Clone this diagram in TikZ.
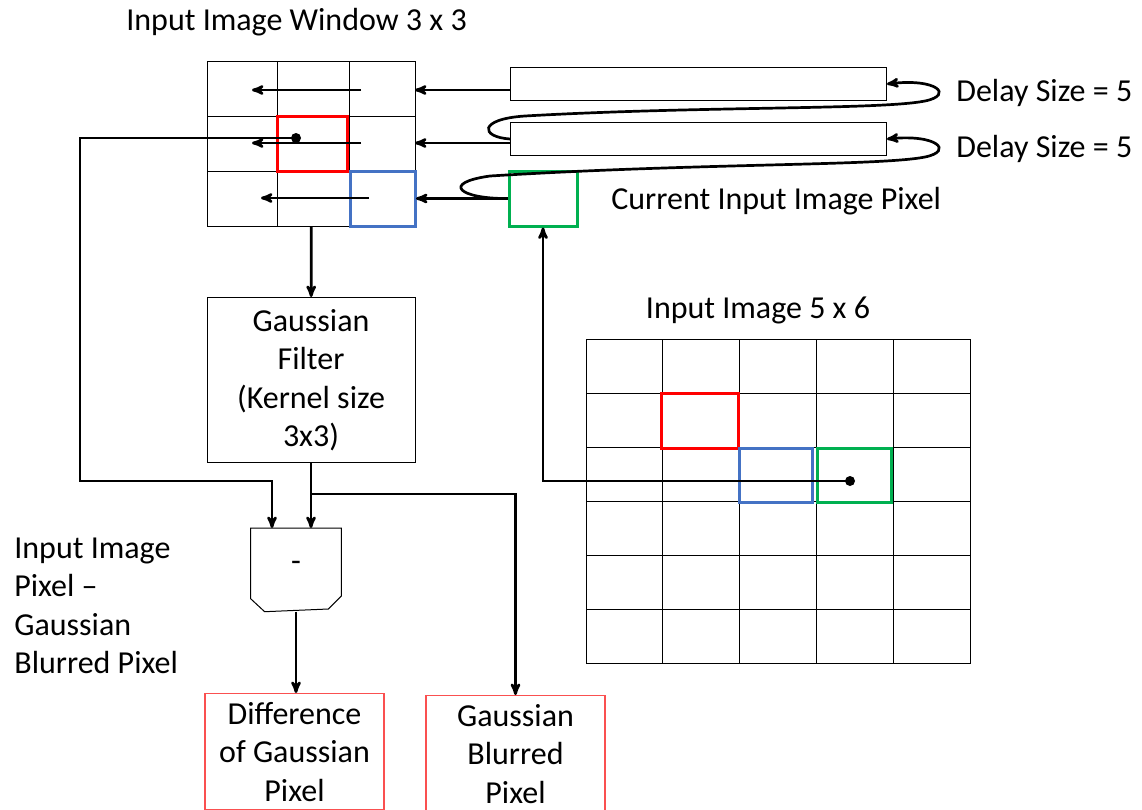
\documentclass[tikz,border=0pt]{standalone}
\usepackage{fontspec}
\setmainfont{Carlito}
\usetikzlibrary{arrows}
\usetikzlibrary{positioning}
\usetikzlibrary{calc}

\definecolor{selred}{RGB}{255,0,0}
\definecolor{selblue}{RGB}{68,114,196}
\definecolor{selgreen}{RGB}{0,176,80}
\definecolor{outred}{RGB}{250,80,80}

\begin{document}
\begin{tikzpicture}[x=1pt,y=-1pt,->,>=stealth',line width=2.7pt,
    font=\fontsize{32}{38.5}\selectfont,
    box/.style={draw,line width=1pt,inner sep=0pt},
    gridline/.style={-,line width=1pt},
    sel/.style={draw=#1,line width=3pt,inner sep=0pt,minimum height=55pt},
    outbox/.style={draw=outred,line width=1.2pt,align=center,minimum width=179pt},
    dot/.style={circle,fill,inner sep=0pt,minimum size=10pt},
    lbl/.style={inner sep=0pt,anchor=base west}]

        \useasboundingbox (0,0) rectangle (1142,809);

        % window 3x3
        \node[box,minimum width=208pt,minimum height=165pt,anchor=north west] (win) at (207,61) {};
        \foreach \x in {277,349} \draw[gridline] (\x,61) -- (\x,226);
        \foreach \y in {116,171} \draw[gridline] (207,\y) -- (415,\y);
        \node[lbl] (wintitle) at (125,30) {Input Image Window 3 x 3};
        \node[sel=selred,minimum width=70pt] (wred) at (312,143.5) {};
        \node[sel=selblue,minimum width=65pt] (wblue) at (382.5,198.5) {};
        \node[dot] (wpix) at (296,138) {};
        \coordinate (r1) at (415,90);
        \coordinate (r2) at (415,143);

        % delay lines
        \node[box,minimum width=376pt,minimum height=33pt,anchor=north west] (dl1) at (510,67) {};
        \node[box,minimum width=376pt,minimum height=33pt,anchor=north west] (dl2) at (510,122) {};
        \node[sel=selgreen,minimum width=68pt] (cur) at (543,198.5) {};
        \node[lbl] (dl1lbl) at (955,101) {Delay Size = 5};
        \node[lbl] (dl2lbl) at (955,157) {Delay Size = 5};
        \node[lbl] (curlbl) at (610,209) {Current Input Image Pixel};

        % filter and subtractor
        \node[box,minimum width=208pt,minimum height=165pt,align=center,anchor=north] (gf) at (311,297) {Gaussian\\Filter\\(Kernel size\\3x3)};
        \node[minimum width=88pt,minimum height=75pt,inner sep=0pt,anchor=north] (sub) at (296,528) {-};
        \draw[gridline] (sub.north west) -- (sub.north east) -- ++(0,68) -- ++(-13,13)
            -- ($(sub.south west)+(14,6)$) -- ++(-14,-13) -- cycle;
        \node[align=left,inner sep=0pt,anchor=west] (sublbl) at (13,606) {Input Image\\Pixel --\\Gaussian\\Blurred Pixel};

        % outputs
        \node[outbox,minimum height=116pt,anchor=north] (dog) at (294.5,693) {Difference\\of Gaussian\\Pixel};
        \node[outbox,minimum height=116pt,anchor=north] (gbp) at (515.5,695) {Gaussian\\Blurred\\Pixel};

        % input image 5x6
        \node[box,minimum width=384pt,minimum height=324pt,anchor=north west] (img) at (586,339) {};
        \foreach \i in {1,...,4} \draw[gridline] (586+\i*76.8,339) -- ++(0,324);
        \foreach \j in {1,...,5} \draw[gridline] (586,339+\j*54) -- ++(384,0);
        \node[anchor=base] (imgtitle) at (758,318) {Input Image 5 x 6};
        \node[sel=selred,minimum width=77pt] (ired) at (699.5,420.5) {};
        \node[sel=selblue,minimum width=73pt,minimum height=54pt] (iblue) at (775.5,475) {};
        \node[sel=selgreen,minimum width=74pt,minimum height=54pt] (igreen) at (854,475) {};
        \node[dot] (pix) at (850,481) {};
        \coordinate (fb) at (80,481);

        % shifts inside the window
        \draw (361,90) -- (252,90);
        \draw (361,143) -- (252,143);
        \draw (369,198) -- (261,198);

        \draw (dl1.west |- r1) -- (r1);
        \draw (dl2.west |- r2) -- (r2);
        \draw (cur.west) -- (cur.west -| win.east);
        \draw (dl2.west) .. controls (480,137) and (478,119) .. (525,116)
            .. controls (700,106) and (880,110) .. (925,101)
            .. controls (954,95) and (937,78) .. (dl1.east);
        \draw (cur.west) .. controls (460,199) and (440,183) .. (490,176)
            .. controls (700,163) and (880,166) .. (925,157)
            .. controls (954,151) and (937,134) .. (dl2.east);

        \draw (pix.center) -| (cur.south);
        \draw (win) -- (gf);
        \draw (wpix.center) -| (fb) -| ($(sub.north)+(-24,0)$);
        \draw (gf.south) -- (gf.south |- sub.north);
        \draw ($(gf.south)+(0,31)$) -| (gbp.north);
        \draw ($(sub.south)+(0,6)$) -- (sub.south |- dog.north);
\end{tikzpicture}
\end{document}
